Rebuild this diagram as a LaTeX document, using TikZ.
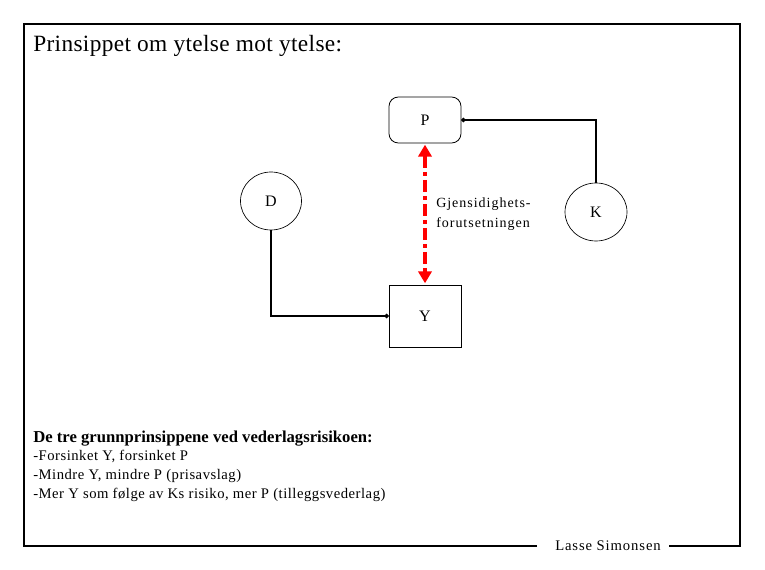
\documentclass[tikz,border=0pt]{standalone}
\usepackage{fontspec}
\setmainfont{Liberation Serif}
\usetikzlibrary{arrows.meta,shapes.geometric}
\begin{document}
\begin{tikzpicture}[x=0.75pt,y=-0.75pt,
  conn/.style={line width=1.5pt,-{Circle[length=3pt]}},
  box/.style={draw,line width=0.6pt,minimum width=72*0.75pt,font=\fontsize{12}{14}\selectfont},
  circ/.style={draw,ellipse,line width=0.5pt,inner sep=0pt,font=\fontsize{12}{14}\selectfont},
  txt/.style={anchor=base west,inner sep=0pt},
  spaced/.style={font=\fontsize{11}{13}\selectfont\addfontfeature{LetterSpace=3.5}},
  recip/.style={draw=red,line width=3pt,dash pattern=on 9pt off 3pt on 3pt off 3pt,{Triangle[length=9pt,width=10pt]}-{Triangle[length=9pt,width=10pt]},shorten <=1pt,shorten >=1pt}]
\useasboundingbox (0,0) rectangle (765,570);
\fill[white] (0,0) rectangle (765,570);
% frame
\coordinate (fl) at (537,546);
\coordinate (fr) at (669,546);
\draw[line width=0.8pt] (fl) -- (24,546) -- (24,24) -- (740,24) -- (740,546) -- (fr);
\node[anchor=center,font=\fontsize{11}{13}\selectfont\addfontfeature{LetterSpace=6}] (auth) at (608,546) {Lasse Simonsen};
% title
\node[txt,font=\fontsize{17.5}{20}\selectfont\addfontfeature{LetterSpace=1.5}] (title) at (33,52) {Prinsippet om ytelse mot ytelse:};
% nodes
\node[box,rounded corners=7pt,minimum height=46*0.75pt] (P) at (425,120) {P};
\node[box,minimum height=62*0.75pt] (Y) at (425,316) {Y};
\node[circ,minimum width=61*0.75pt,minimum height=58*0.75pt] (D) at (271,201) {D};
\node[circ,minimum width=62*0.75pt,minimum height=58*0.75pt] (K) at (596,212) {K};
% connectors
\coordinate (dc) at (271,316);
\coordinate (kc) at (596,120);
\draw[conn] (D.south) -- (dc) -- (Y.west);
\draw[conn] (K.north) -- (kc) -- (P.east);
\draw[recip] (P.south) -- (Y.north);
\node[align=left,anchor=north west,inner sep=0pt,font=\fontsize{10.5}{15}\selectfont\addfontfeature{LetterSpace=7}] (lab) at (436,198) {Gjensidighets-\\forutsetningen};
% bottom text
\node[txt,font=\fontsize{12.5}{14}\selectfont\bfseries] (h) at (33,443) {De tre grunnprinsippene ved vederlagsrisikoen:};
\node[txt,spaced] (l1) at (33,461) {-Forsinket Y, forsinket P};
\node[txt,spaced] (l2) at (33,480) {-Mindre Y, mindre P (prisavslag)};
\node[txt,spaced] (l3) at (33,499) {-Mer Y som følge av Ks risiko, mer P (tilleggsvederlag)};
\end{tikzpicture}
\end{document}
